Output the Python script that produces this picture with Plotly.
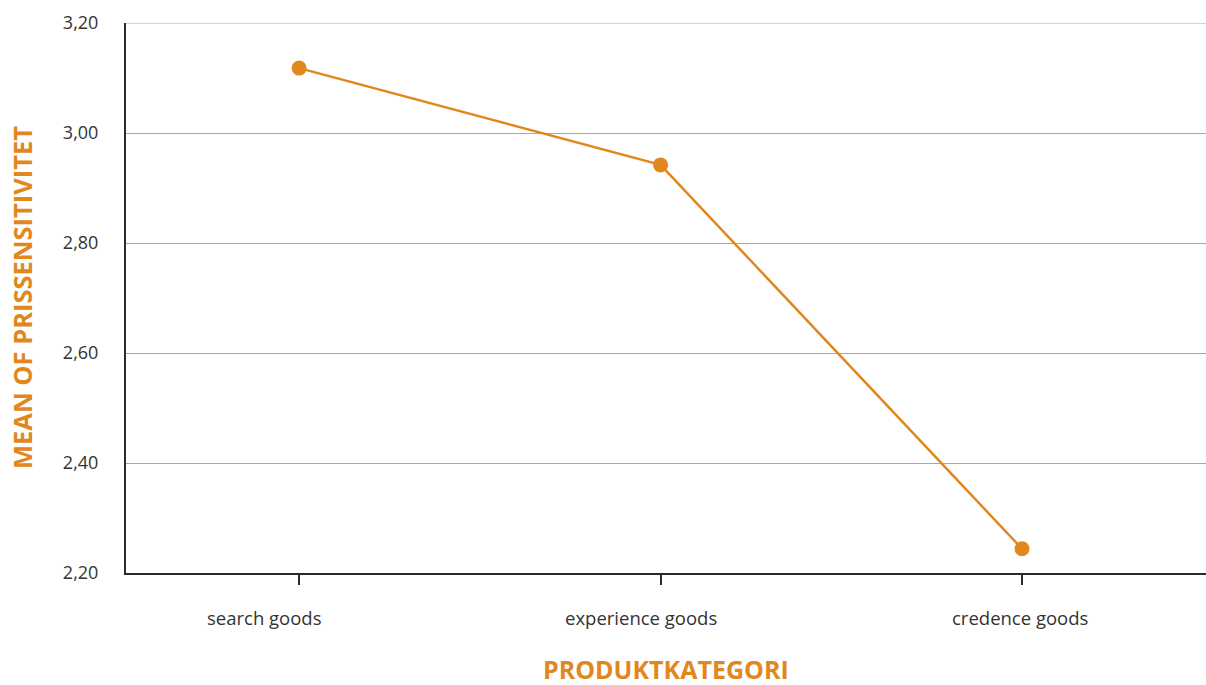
import plotly.graph_objects as go

categories = ["search goods", "experience goods", "credence goods"]
mean_values = [3.118, 2.942, 2.244]
label_shift = [-35, -20, -2]  # horizontal offset of each category label, px

ORANGE = "#E0871E"
TEXT = "#333333"
FONT = "Open Sans"

x_pos = list(range(len(categories)))

fig = go.Figure()
fig.add_trace(go.Scatter(
    x=x_pos, y=mean_values, mode="lines+markers",
    line=dict(color=ORANGE, width=2.5),
    marker=dict(color=ORANGE, size=15),
    showlegend=False, hoverinfo="skip",
))

for xp, cat, sh in zip(x_pos, categories, label_shift):
    fig.add_annotation(
        x=xp, y=0, xref="x", yref="paper", yanchor="middle",
        text=cat, showarrow=False, xshift=sh, yshift=-44,
        font=dict(family=FONT, size=18.5, color=TEXT),
    )

# axis titles
fig.add_annotation(
    x=0.5, y=0, xref="paper", yref="paper", yanchor="middle",
    text="<b>PRODUKTKATEGORI</b>", showarrow=False, yshift=-96,
    font=dict(family=FONT, size=25, color=ORANGE),
)
fig.add_annotation(
    x=0, y=0.5, xref="paper", yref="paper", xanchor="center",
    text="<b>MEAN OF PRISSENSITIVITET</b>", showarrow=False, textangle=-90,
    xshift=-104, font=dict(family=FONT, size=25.5, color=ORANGE),
)

# top reference line at the upper edge of the value range
fig.add_hline(y=3.2, line=dict(color="#a8a8a8", width=1), layer="below")

fig.update_layout(
    width=1206, height=685,
    margin=dict(l=126, r=0, t=23, b=112),
    plot_bgcolor="white", paper_bgcolor="white",
    separators=",.",
    xaxis=dict(
        range=[-0.479, 2.509], tickvals=x_pos, ticktext=["", "", ""],
        showgrid=False, zeroline=False,
        showline=True, linecolor="#2b2b2b", linewidth=2,
        ticks="outside", ticklen=10, tickwidth=2, tickcolor="#2b2b2b",
    ),
    yaxis=dict(
        range=[2.2, 3.2], tickvals=[2.2, 2.4, 2.6, 2.8, 3.0, 3.2],
        tickformat=".2f",
        showgrid=True, gridcolor="#a8a8a8", gridwidth=1,
        zeroline=False,
        showline=True, linecolor="#2b2b2b", linewidth=2,
        ticks="", ticklabelstandoff=22,
        tickfont=dict(family=FONT, size=18, color=TEXT),
    ),
)

fig.write_html("out.html")
